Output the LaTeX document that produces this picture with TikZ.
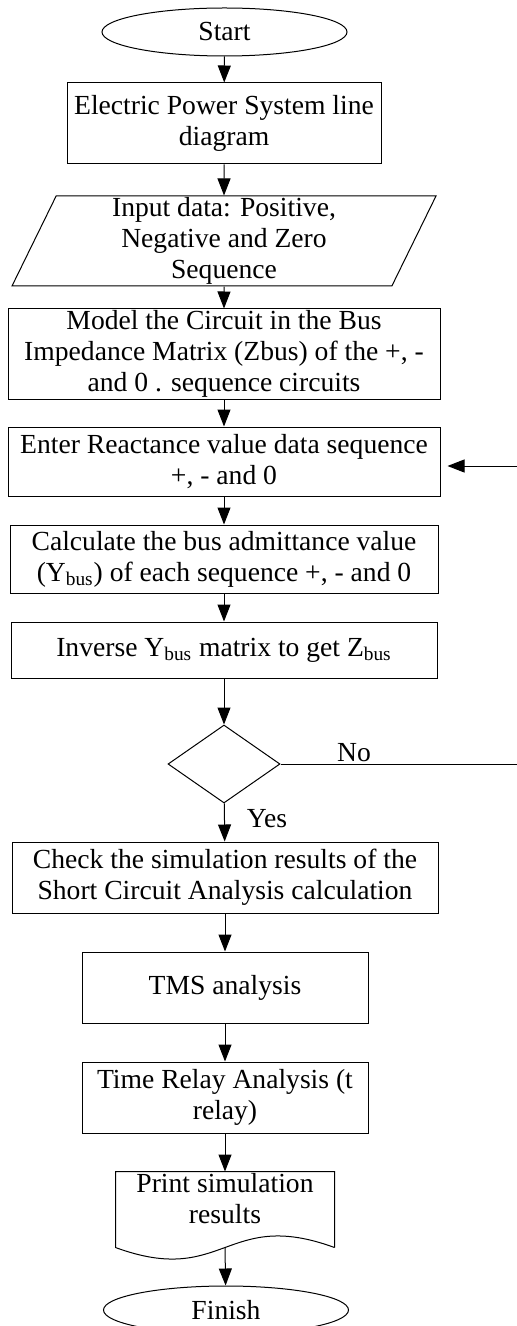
\documentclass[tikz,border=0pt]{standalone}
\usepackage{fontspec}
\setmainfont{Liberation Serif}
\usetikzlibrary{shapes.geometric,arrows.meta}
\begin{document}
\begin{tikzpicture}[x=0.5pt,y=-0.5pt,line width=0.5pt,
	every node/.style={font=\fontsize{13.8}{15.4}\selectfont,align=center},
	term/.style={draw,ellipse,inner sep=0pt,minimum width=122.5pt,minimum height=24pt},
	proc/.style={draw,rectangle,inner xsep=2pt,inner ysep=0pt},
	io/.style={draw,trapezium,trapezium left angle=63,trapezium right angle=117,trapezium stretches body=true,inner sep=0pt},
	dec/.style={draw,diamond,inner sep=0pt,minimum width=56pt,minimum height=39pt},
	flow/.style={-{Triangle[length=8.5pt,width=6.5pt]}}]
	\useasboundingbox (0,0) rectangle (517,1326);
	\node[term] (start) at (224.5,32) {Start};
	\node[proc,minimum width=157pt,minimum height=40.5pt] (diag) at (224,123.5) {Electric Power System line\\diagram};
	\node[io,minimum width=212pt,minimum height=45pt] (input) at (224,241) {Input data: Positive,\\Negative and Zero\\Sequence};
	\node[proc,minimum width=216pt,minimum height=45pt] (model) at (224,354) {Model the Circuit in the Bus\\Impedance Matrix (Zbus) of the +, -\\and 0 . sequence circuits};
	\node[proc,minimum width=216pt,minimum height=34.5pt] (enter) at (224,461.5) {Enter Reactance value data sequence\\+, - and 0};
	\node[proc,minimum width=214pt,minimum height=34pt] (calc) at (224,559) {Calculate the bus admittance value\\(Y\textsubscript{bus}) of each sequence +, - and 0};
	\node[proc,minimum width=213pt,minimum height=28pt] (inverse) at (224,650) {Inverse Y\textsubscript{bus} matrix to get Z\textsubscript{bus}};
	\node[dec] (choice) at (224,764) {};
	\node[proc,minimum width=213pt,minimum height=35.5pt] (check) at (225,877.5) {Check the simulation results of the\\Short Circuit Analysis calculation};
	\node[proc,minimum width=143pt,minimum height=35.5pt] (tms) at (225,987.5) {TMS analysis};
	\node[proc,minimum width=143pt,minimum height=35.5pt] (relay) at (225,1097.5) {Time Relay Analysis (t\\relay)};
	\node[inner sep=0pt,minimum width=109pt,minimum height=37.5pt,text depth=11pt] (print) at (225,1209.5) {Print simulation\\results};
	\draw (print.south east) -- (print.north east) -- (print.north west) -- (print.south west)
		.. controls +(54.5pt,-20pt) and +(-54.5pt,20pt) .. (print.south east);
	\node[term] (finish) at (226,1310) {Finish};
	\node (yes) at (267,819) {Yes};
	\node (no) at (354,753) {No};
	\coordinate (noend) at (517,764);
	\coordinate (back) at (517,466);
	\draw[flow] (start) -- (diag);
	\draw[flow] (diag) -- (input);
	\draw[flow] (input) -- (model);
	\draw[flow] (model) -- (enter);
	\draw[flow] (enter) -- (calc);
	\draw[flow] (calc) -- (inverse);
	\draw[flow] (inverse) -- (choice);
	\draw[flow] (choice) -- (check);
	\draw[flow] (check) -- (tms);
	\draw[flow] (tms) -- (relay);
	\draw[flow] (relay) -- (print);
	\draw[flow] (print.south) -- (finish);
	\draw (choice.east) -- (noend);
	\draw[flow] (back) -- ([xshift=3.5pt]back -| enter.east);
\end{tikzpicture}
\end{document}
